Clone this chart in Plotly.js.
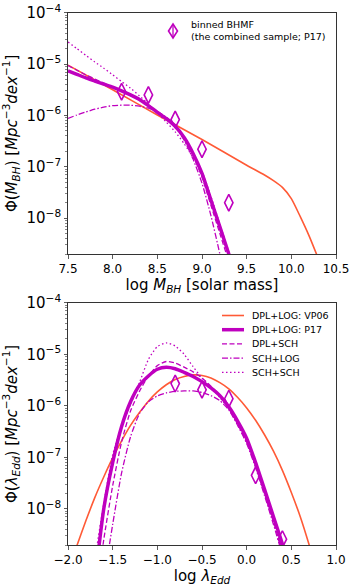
<!DOCTYPE html>
<html><head><meta charset="utf-8">
<script src="https://cdn.plot.ly/plotly-3.0.1.min.js"></script>
<style>html,body{margin:0;padding:0;background:#fff;} #chart{width:350px;height:588px;}</style>
</head><body><div id="chart"></div>
<script>
// ---------- Top panel: black hole mass function ----------
const mbhGrid = [7.5,7.6,7.7,7.8,7.9,8.0,8.1,8.2,8.3,8.4,8.5,8.6,8.7,8.8,8.9,9.0,9.1,9.2,9.3,9.4];
const bhmfP17   = [7.41e-6,6.31e-6,5.37e-6,4.68e-6,4.07e-6,3.55e-6,3.02e-6,2.51e-6,2.04e-6,1.55e-6,1.15e-6,8.71e-7,6.17e-7,3.72e-7,1.82e-7,7.41e-8,2.24e-8,6.76e-9,2.00e-9,5.6e-10];
const bhmfDplSch = [9.33e-6,7.59e-6,6.17e-6,5.13e-6,4.27e-6,3.55e-6,2.95e-6,2.45e-6,2.00e-6,1.55e-6,1.15e-6,8.71e-7,6.03e-7,3.55e-7,1.66e-7,6.31e-8,1.78e-8,5.01e-9,1.41e-9,3.5e-10];
const bhmfSchLog = [8.71e-7,1.02e-6,1.17e-6,1.32e-6,1.45e-6,1.55e-6,1.58e-6,1.58e-6,1.51e-6,1.38e-6,1.20e-6,9.12e-7,6.03e-7,3.31e-7,1.41e-7,4.79e-8,1.12e-8,2.00e-9,3.16e-10,4e-11];
const bhmfSchSch = [2.69e-5,2.00e-5,1.48e-5,1.10e-5,8.32e-6,6.17e-6,4.57e-6,3.39e-6,2.40e-6,1.66e-6,1.12e-6,7.41e-7,4.79e-7,2.82e-7,1.51e-7,7.94e-8,2.63e-8,7.59e-9,2.19e-9,6e-10];
const mbhVP06 = [7.5,8.0,8.5,9.0,9.5,9.7,9.8,9.9,10.0,10.1,10.2,10.3];
const bhmfVP06 = [9.55e-6,3.16e-6,1.02e-6,3.39e-7,1.07e-7,6.92e-8,5.37e-8,3.98e-8,2.40e-8,1.07e-8,4.47e-9,1.66e-9];
const mbhBins = [8.1,8.4,8.7,9.0,9.3];
const bhmfBins = [2.9e-6,2.5e-6,8.3e-7,2.2e-7,2.0e-8];

// ---------- Bottom panel: Eddington ratio distribution ----------
const lamGrid = [-1.8,-1.7,-1.6,-1.5,-1.4,-1.3,-1.2,-1.1,-1.0,-0.9,-0.8,-0.7,-0.6,-0.5,-0.4,-0.3,-0.2,-0.1,0.0,0.1,0.2,0.3,0.4,0.5];
const erdfP17    = [1.58e-11,3.98e-10,1.00e-8,7.94e-8,3.98e-7,1.20e-6,2.51e-6,3.80e-6,5.13e-6,5.62e-6,5.25e-6,4.47e-6,3.72e-6,2.95e-6,2.24e-6,1.58e-6,9.55e-7,5.01e-7,2.34e-7,7.94e-8,2.40e-8,7.08e-9,2.09e-9,5.01e-10];
const erdfDplSch = [1.00e-11,1.26e-10,2.51e-9,2.82e-8,2.00e-7,7.94e-7,1.91e-6,3.80e-6,6.03e-6,7.24e-6,6.76e-6,5.62e-6,4.57e-6,3.47e-6,2.40e-6,1.55e-6,8.91e-7,4.37e-7,2.00e-7,6.76e-8,2.00e-8,5.62e-9,1.51e-9,3.16e-10];
const erdfSchLog = [1.00e-12,2.51e-11,3.98e-10,5.01e-9,5.01e-8,2.51e-7,7.08e-7,1.20e-6,1.55e-6,1.78e-6,1.91e-6,1.95e-6,1.95e-6,1.82e-6,1.58e-6,1.26e-6,8.32e-7,4.17e-7,1.86e-7,6.31e-8,1.82e-8,5.01e-9,1.26e-9,2.51e-10];
const erdfSchSch = [3.16e-11,1.00e-9,1.26e-8,1.12e-7,3.98e-7,1.05e-6,2.82e-6,7.94e-6,1.41e-5,1.66e-5,1.45e-5,1.00e-5,5.75e-6,3.47e-6,2.29e-6,1.45e-6,8.71e-7,4.27e-7,1.95e-7,6.76e-8,2.00e-8,5.50e-9,1.41e-9,3.16e-10];
const lamVP06 = [-2.0,-1.9,-1.8,-1.7,-1.6,-1.5,-1.4,-1.3,-1.2,-1.1,-1.0,-0.9,-0.8,-0.7,-0.6,-0.5,-0.4,-0.3,-0.2,-0.1,0.0,0.1,0.2,0.3,0.4,0.5,0.6,0.7,0.8];
const erdfVP06 = [5.89e-10,1.95e-9,5.89e-9,1.66e-8,4.17e-8,9.77e-8,2.09e-7,4.17e-7,7.41e-7,1.23e-6,1.86e-6,2.57e-6,3.24e-6,3.72e-6,3.98e-6,3.89e-6,3.47e-6,2.82e-6,2.14e-6,1.45e-6,9.12e-7,5.25e-7,2.75e-7,1.32e-7,5.62e-8,2.09e-8,7.08e-9,2.00e-9,5.01e-10];
const lamBins = [-0.8,-0.5,-0.2,0.1,0.4];
const erdfBins = [2.7e-6,2.05e-6,1.38e-6,4.5e-8,2.6e-9];

const legendNames = ['DPL+LOG: VP06','DPL+LOG: P17','DPL+SCH','SCH+LOG','SCH+SCH'];
const binLabel = 'binned BHMF<br>(the combined sample; P17)';

const ORANGE = '#ff5a36', MAG = '#bf00bf';
const FONT = 'DejaVu Sans, sans-serif';
const DASH = '5px,2.5px', DASHDOT = '6px,2px,1.5px,2px', DOT = '1.5px,2.5px';
const styles = [
  {color:ORANGE,width:1.6,dash:'solid'},
  {color:MAG,width:3.5,dash:'solid'},
  {color:MAG,width:1.3,dash:DASH},
  {color:MAG,width:1.3,dash:DASHDOT},
  {color:MAG,width:1.3,dash:DOT}
];
function ln(x,y,xa,ya,k){
  return {x:x,y:y,xaxis:xa,yaxis:ya,type:'scatter',mode:'lines',name:legendNames[k],showlegend:false,
    line:Object.assign({shape:'spline',smoothing:0.6},styles[k]),hoverinfo:'skip'};
}
const diamond = {symbol:'diamond-tall-open',size:12,color:MAG,line:{color:MAG,width:1.6}};
const traces = [
  ln(mbhVP06,bhmfVP06,'x','y',0),
  ln(mbhGrid,bhmfSchLog,'x','y',3),
  ln(mbhGrid,bhmfDplSch,'x','y',2),
  ln(mbhGrid,bhmfSchSch,'x','y',4),
  ln(mbhGrid,bhmfP17,'x','y',1),
  {x:mbhBins,y:bhmfBins,xaxis:'x',yaxis:'y',type:'scatter',mode:'markers',name:'binned BHMF',showlegend:false,
    marker:diamond,hoverinfo:'skip'},
  ln(lamVP06,erdfVP06,'x2','y2',0),
  ln(lamGrid,erdfP17,'x2','y2',1),
  ln(lamGrid,erdfDplSch,'x2','y2',2),
  ln(lamGrid,erdfSchLog,'x2','y2',3),
  ln(lamGrid,erdfSchSch,'x2','y2',4),
  {x:lamBins,y:erdfBins,xaxis:'x2',yaxis:'y2',type:'scatter',mode:'markers',showlegend:false,
    marker:diamond,hoverinfo:'skip'}
];

// Plot-area geometry (pixels) used to place the legends in paper units
const L = 68, R = 14, T = 5, B = 40, W = 350, H = 588;
const pw = W - L - R, ph = H - T - B;
const px2x = p => (p - L) / pw, py2y = p => (H - B - p) / ph;
const shapes = [], annotations = [];
// lower legend (line samples + labels)
legendNames.forEach((nm, i) => {
  const yy = py2y(315.5 + i * 14.2);
  shapes.push({type:'line',xref:'paper',yref:'paper',x0:px2x(222),x1:px2x(244),y0:yy,y1:yy,
    line:{color:styles[i].color,width:styles[i].width,dash:styles[i].dash}});
  annotations.push({xref:'paper',yref:'paper',x:px2x(250),y:yy,xanchor:'left',yanchor:'middle',showarrow:false,
    text:nm,font:{family:FONT,size:9.5,color:'#000'}});
});
// upper legend (diamond symbol with its vertical bar + two-line label)
const cx = 173, cy = 31, hw = 4.5, hh = 7;
shapes.push({type:'path',xref:'paper',yref:'paper',
  path:`M ${px2x(cx)} ${py2y(cy-hh)} L ${px2x(cx+hw)} ${py2y(cy)} L ${px2x(cx)} ${py2y(cy+hh)} L ${px2x(cx-hw)} ${py2y(cy)} Z`,
  line:{color:MAG,width:1.6},fillcolor:'rgba(0,0,0,0)'});
shapes.push({type:'line',xref:'paper',yref:'paper',x0:px2x(cx),x1:px2x(cx),y0:py2y(cy-hh),y1:py2y(cy+hh),
  line:{color:MAG,width:1.3}});
annotations.push({xref:'paper',yref:'paper',x:px2x(189),y:py2y(30.5),xanchor:'left',yanchor:'middle',align:'left',showarrow:false,
  text:binLabel,font:{family:FONT,size:9.5,color:'#000'}});

const axCommon = {showline:true,mirror:true,linecolor:'#333',linewidth:1,ticks:'outside',ticklen:3.5,tickwidth:0.8,tickcolor:'#333',
  showgrid:false,zeroline:false,tickfont:{family:FONT,size:12,color:'#000'}};
const titleFont = {family:FONT,size:15,color:'#000'};
function xax(range,title,anchor){
  return Object.assign({},axCommon,{range:range,dtick:0.5,tick0:0,tickformat:'.1f',anchor:anchor,domain:[0,1],
    title:{text:title,font:titleFont,standoff:3}});
}
function yax(title,anchor,dom){
  return Object.assign({},axCommon,{type:'log',range:[Math.log10(2e-9),-4],dtick:1,exponentformat:'power',anchor:anchor,domain:dom,
    minor:{ticks:'outside',ticklen:2,tickwidth:0.6,tickcolor:'#333',showgrid:false},
    title:{text:title,font:titleFont,standoff:5}});
}
const layout = {
  width:W,height:H,margin:{l:L,r:R,t:T,b:B},paper_bgcolor:'#fff',plot_bgcolor:'#fff',
  font:{family:FONT,color:'#000'},
  xaxis:xax([7.5,10.5],'log <i>M</i><sub><i>BH</i></sub> [solar mass]','y'),
  yaxis:yax('Φ(<i>M</i><sub><i>BH</i></sub>) [<i>Mpc</i><sup>−3</sup><i>dex</i><sup>−1</sup>]','x',[0.5414,0.9858]),
  xaxis2:xax([-2,1],'log <i>λ</i><sub><i>Edd</i></sub>','y2'),
  yaxis2:yax('Φ(<i>λ</i><sub><i>Edd</i></sub>) [<i>Mpc</i><sup>−3</sup><i>dex</i><sup>−1</sup>]','x2',[0.0055,0.4517]),
  showlegend:false,
  shapes:shapes,
  annotations:annotations
};
Plotly.newPlot('chart',traces,layout,{staticPlot:true,displayModeBar:false});
</script>
</body></html>
